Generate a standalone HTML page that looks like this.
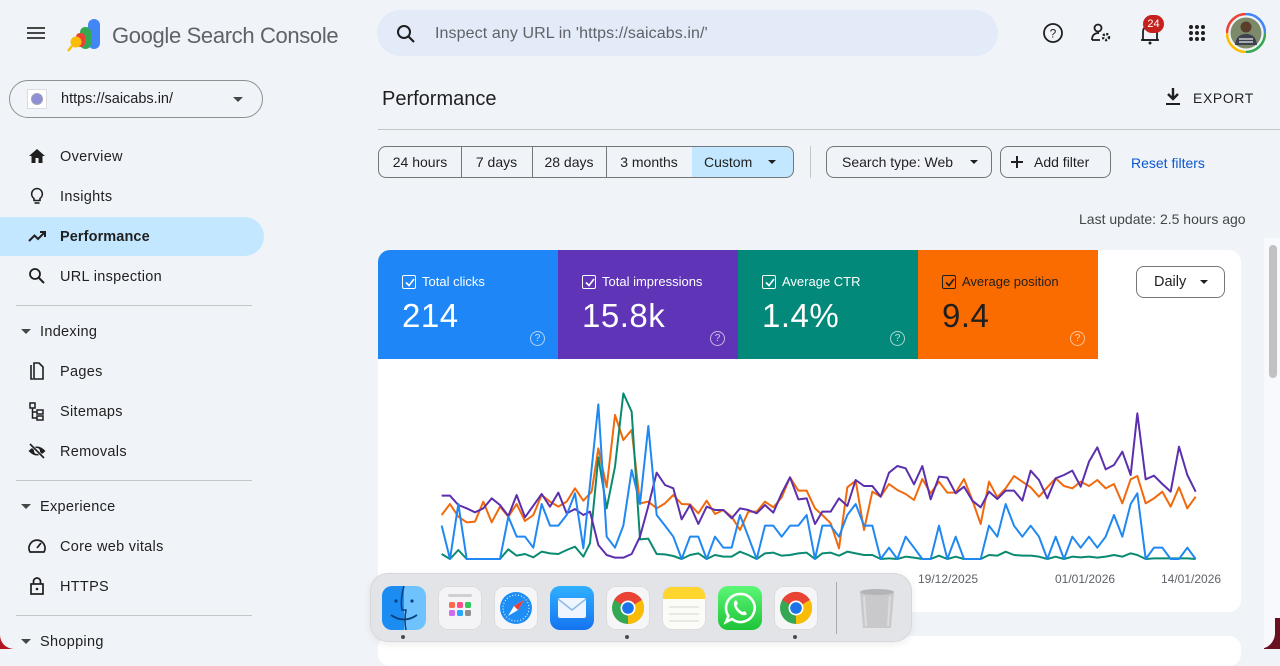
<!DOCTYPE html>
<html><head><meta charset="utf-8">
<style>
*{box-sizing:border-box;margin:0;padding:0}
body{width:1280px;height:649px;overflow:hidden;background:#f0f4f9;font-family:"Liberation Sans",Arial,sans-serif;color:#1f1f1f;position:relative}
.a{position:absolute}
.nav{position:absolute;left:60px;font-size:14.5px;color:#1f1f1f;letter-spacing:0.3px;line-height:18px}
.ic{position:absolute;left:27px;width:20px;height:20px}
.div{position:absolute;left:16px;width:236px;height:1px;background:#c4c7c5}
.chip{position:absolute;top:146px;height:32px;border:1px solid #747775;font-size:14px;line-height:30px;color:#1f1f1f;text-align:center}
.tile{position:absolute;top:250px;width:180px;height:109px;color:#fff}
.tile .lb{position:absolute;left:44px;top:24px;font-size:13px}
.tile .cb{position:absolute;left:24px;top:25px;width:14px;height:14px;border:1.5px solid #fff;border-radius:2px}
.tile .v{position:absolute;left:24px;top:47px;font-size:33px;letter-spacing:0.5px}
.tile .q{position:absolute;left:152px;top:81px;width:15px;height:15px;border:1.3px solid rgba(255,255,255,0.65);border-radius:50%;font-size:10px;line-height:13px;text-align:center;color:rgba(255,255,255,0.75)}
.dk{position:absolute;top:586px;width:44px;height:44px;border-radius:10px}
.date{position:absolute;top:572px;font-size:12px;color:#5f6368}
</style></head><body>

<!-- header -->
<div class="a" style="left:27px;top:27px;width:18px;height:2px;background:#444746"></div>
<div class="a" style="left:27px;top:32px;width:18px;height:2px;background:#444746"></div>
<div class="a" style="left:27px;top:37px;width:18px;height:2px;background:#444746"></div>
<svg class="a" style="left:66px;top:16px" width="36" height="36" viewBox="0 0 36 36">
<rect x="22" y="3" width="12" height="30" rx="6" fill="#4285f4"/>
<rect x="14" y="11" width="11" height="22" rx="5" fill="#34a853"/>
<rect x="10" y="17" width="9" height="14" rx="4" fill="#ea4335"/>
<circle cx="10" cy="26" r="5.5" fill="#fbbc04"/>
<line x1="6" y1="30" x2="2" y2="35" stroke="#fbbc04" stroke-width="2.5"/>
</svg>
<div class="a" style="left:112px;top:23px;font-size:22px;color:#5f6368;letter-spacing:-0.35px">Google Search Console</div>

<div class="a" style="left:377px;top:10px;width:621px;height:46px;border-radius:23px;background:#e3ebf8"></div>
<svg class="a" style="left:395px;top:23px" width="22" height="22" viewBox="0 0 22 22"><circle cx="9" cy="9" r="6" fill="none" stroke="#1f1f1f" stroke-width="2"/><line x1="13.5" y1="13.5" x2="19" y2="19" stroke="#1f1f1f" stroke-width="2.2"/></svg>
<div class="a" style="left:435px;top:25px;font-size:16px;color:#5f6368;letter-spacing:0.1px">Inspect any URL in 'https://saicabs.in/'</div>

<svg class="a" style="left:1042px;top:22px" width="22" height="22"><circle cx="11" cy="11" r="9" fill="none" stroke="#1f1f1f" stroke-width="1.8"/><text x="11" y="15.5" font-size="12" text-anchor="middle" fill="#1f1f1f" font-family="Liberation Sans">?</text></svg>
<svg class="a" style="left:1090px;top:22px" width="24" height="22"><circle cx="8" cy="6" r="3.5" fill="none" stroke="#1f1f1f" stroke-width="1.8"/><path d="M2 18 Q2 11 9 11" fill="none" stroke="#1f1f1f" stroke-width="1.8"/><line x1="2" y1="18" x2="10" y2="18" stroke="#1f1f1f" stroke-width="1.8"/><circle cx="16" cy="15" r="3" fill="none" stroke="#1f1f1f" stroke-width="2.5" stroke-dasharray="2 1.5"/></svg>
<svg class="a" style="left:1139px;top:22px" width="22" height="24"><path d="M4 18 V10 Q4 4 11 4 Q18 4 18 10 V18 Z" fill="none" stroke="#1f1f1f" stroke-width="1.8"/><line x1="2" y1="18" x2="20" y2="18" stroke="#1f1f1f" stroke-width="1.8"/><circle cx="11" cy="21" r="1.5" fill="#1f1f1f"/></svg>
<div class="a" style="left:1143px;top:15px;width:21px;height:18px;border-radius:9px;background:#c5221f;color:#fff;font-size:11px;text-align:center;line-height:18px">24</div>
<svg class="a" style="left:1188px;top:24px" width="18" height="18"><g fill="#1f1f1f"><circle cx="3" cy="3" r="2"/><circle cx="9" cy="3" r="2"/><circle cx="15" cy="3" r="2"/><circle cx="3" cy="9" r="2"/><circle cx="9" cy="9" r="2"/><circle cx="15" cy="9" r="2"/><circle cx="3" cy="15" r="2"/><circle cx="9" cy="15" r="2"/><circle cx="15" cy="15" r="2"/></g></svg>
<svg class="a" style="left:1226px;top:13px" width="40" height="40" viewBox="0 0 40 40">
<path d="M20 1 A19 19 0 0 1 39 20" fill="none" stroke="#4285f4" stroke-width="2.5"/>
<path d="M39 20 A19 19 0 0 1 20 39" fill="none" stroke="#34a853" stroke-width="2.5"/>
<path d="M20 39 A19 19 0 0 1 1 20" fill="none" stroke="#fbbc04" stroke-width="2.5"/>
<path d="M1 20 A19 19 0 0 1 20 1" fill="none" stroke="#ea4335" stroke-width="2.5"/>
<circle cx="20" cy="20" r="15.5" fill="#7d8a6a"/>
<circle cx="20" cy="14" r="5.5" fill="#5a3d2b"/>
<path d="M9 32 Q10 21 20 21 Q30 21 31 32 Z" fill="#3c4250"/>
<path d="M13 26 h14 M13 29 h14" stroke="#e8e8e8" stroke-width="1.2"/>
</svg>

<!-- sidebar -->
<div class="a" style="left:9px;top:80px;width:254px;height:38px;border:1px solid #8e918f;border-radius:19px"></div>
<div class="a" style="left:27px;top:89px;width:20px;height:20px;background:#fff;border:1px solid #dadce0"></div>
<div class="a" style="left:31px;top:93px;width:12px;height:12px;border-radius:50%;background:#8e8fd6;border:1.5px solid #9fa3b5"></div>
<div class="a" style="left:61px;top:91px;font-size:14.5px;color:#1f1f1f">https://saicabs.in/</div>
<div class="a" style="left:233px;top:97px;width:0;height:0;border-left:5px solid transparent;border-right:5px solid transparent;border-top:5px solid #444746"></div>

<div class="a" style="left:0;top:217px;width:264px;height:39px;background:#c2e7ff;border-radius:0 20px 20px 0"></div>

<svg class="ic" style="top:146px" viewBox="0 0 20 20"><path d="M10 3 L2 10 H4.5 V17 H8.5 V12 H11.5 V17 H15.5 V10 H18 Z" fill="#1f1f1f"/></svg>
<div class="nav" style="top:148px">Overview</div>
<svg class="ic" style="top:186px" viewBox="0 0 20 20"><path d="M10 2.5 A5.5 5.5 0 0 0 7 12.5 V14.5 H13 V12.5 A5.5 5.5 0 0 0 10 2.5 Z" fill="none" stroke="#1f1f1f" stroke-width="1.6"/><line x1="7.5" y1="17" x2="12.5" y2="17" stroke="#1f1f1f" stroke-width="1.6"/></svg>
<div class="nav" style="top:188px">Insights</div>
<svg class="ic" style="top:226px" viewBox="0 0 20 20"><path d="M2 15 L7.5 9.5 L11 13 L17 7" fill="none" stroke="#1f1f1f" stroke-width="2"/><path d="M13 6 H18 V11" fill="none" stroke="#1f1f1f" stroke-width="2"/></svg>
<div class="nav" style="top:228px;font-weight:bold;letter-spacing:0.1px">Performance</div>
<svg class="ic" style="top:266px" viewBox="0 0 20 20"><circle cx="8" cy="8" r="5" fill="none" stroke="#1f1f1f" stroke-width="1.8"/><line x1="11.5" y1="11.5" x2="17" y2="17" stroke="#1f1f1f" stroke-width="2"/></svg>
<div class="nav" style="top:268px">URL inspection</div>
<div class="div" style="top:305px"></div>
<div class="a" style="left:21px;top:329px;border-left:5px solid transparent;border-right:5px solid transparent;border-top:5px solid #444746"></div>
<div class="nav" style="left:40px;top:323px">Indexing</div>
<svg class="ic" style="top:361px" viewBox="0 0 20 20"><path d="M4 4 V18 H6" fill="none" stroke="#1f1f1f" stroke-width="1.6"/><path d="M7 2 H12 L16 6 V18 H7 Z" fill="none" stroke="#1f1f1f" stroke-width="1.6"/></svg>
<div class="nav" style="top:363px">Pages</div>
<svg class="ic" style="top:401px" viewBox="0 0 20 20"><rect x="3" y="2" width="5" height="5" fill="none" stroke="#1f1f1f" stroke-width="1.5"/><rect x="10" y="9" width="6" height="4" fill="none" stroke="#1f1f1f" stroke-width="1.5"/><rect x="10" y="15" width="6" height="4" fill="none" stroke="#1f1f1f" stroke-width="1.5"/><path d="M5.5 7 V17 H10 M5.5 11 H10" fill="none" stroke="#1f1f1f" stroke-width="1.5"/></svg>
<div class="nav" style="top:403px">Sitemaps</div>
<svg class="ic" style="top:441px" viewBox="0 0 20 20"><path d="M1.5 10 Q10 1 18.5 10 Q10 19 1.5 10 Z" fill="#1f1f1f"/><circle cx="10" cy="10" r="3" fill="#f0f4f9"/><line x1="3" y1="3" x2="17" y2="17" stroke="#f0f4f9" stroke-width="3"/><line x1="3" y1="3" x2="17" y2="17" stroke="#1f1f1f" stroke-width="1.6"/></svg>
<div class="nav" style="top:443px">Removals</div>
<div class="div" style="top:480px"></div>
<div class="a" style="left:21px;top:504px;border-left:5px solid transparent;border-right:5px solid transparent;border-top:5px solid #444746"></div>
<div class="nav" style="left:40px;top:498px">Experience</div>
<svg class="ic" style="top:536px" viewBox="0 0 20 20"><path d="M3 16 A8 8 0 1 1 17 16 Z" fill="none" stroke="#1f1f1f" stroke-width="1.7"/><line x1="10" y1="12" x2="14" y2="7" stroke="#1f1f1f" stroke-width="1.8"/></svg>
<div class="nav" style="top:538px">Core web vitals</div>
<svg class="ic" style="top:576px" viewBox="0 0 20 20"><rect x="4" y="8" width="12" height="10" fill="none" stroke="#1f1f1f" stroke-width="1.7"/><path d="M6.5 8 V5.5 A3.5 3.5 0 0 1 13.5 5.5 V8" fill="none" stroke="#1f1f1f" stroke-width="1.7"/><circle cx="10" cy="13" r="1.3" fill="#1f1f1f"/></svg>
<div class="nav" style="top:578px">HTTPS</div>
<div class="div" style="top:615px"></div>

<!-- bottom-left screen corner -->
<div class="a" style="left:0;top:633px;width:14px;height:16px;background:#b3121f"></div>
<div class="a" style="left:0;top:626px;width:24px;height:23px;background:#f0f4f9;border-bottom-left-radius:14px"></div>
<div class="a" style="left:21px;top:639px;border-left:5px solid transparent;border-right:5px solid transparent;border-top:5px solid #444746"></div>
<div class="nav" style="left:40px;top:633px">Shopping</div>

<!-- main header -->
<div class="a" style="left:382px;top:88px;font-size:20px;color:#1f1f1f">Performance</div>
<div class="a" style="left:378px;top:129px;width:902px;height:1px;background:#c4c7c5"></div>
<svg class="a" style="left:1164px;top:87px" width="18" height="20"><path d="M9 1 V11 M4 7 L9 12 L14 7" fill="none" stroke="#1f1f1f" stroke-width="2.4"/><line x1="2" y1="17" x2="16" y2="17" stroke="#1f1f1f" stroke-width="2"/></svg>
<div class="a" style="left:1193px;top:90px;font-size:14px;color:#1f1f1f;letter-spacing:0.6px">EXPORT</div>

<!-- filters -->
<div class="chip" style="left:378px;width:84px;border-radius:8px 0 0 8px">24 hours</div>
<div class="chip" style="left:461px;width:72px;border-left:none">7 days</div>
<div class="chip" style="left:532px;width:75px;border-left:none">28 days</div>
<div class="chip" style="left:606px;width:87px;border-left:none">3 months</div>
<div class="chip" style="left:692px;width:102px;border-left:none;border-radius:0 8px 8px 0;background:#c2e7ff;text-align:left;padding-left:12px">Custom</div>
<div class="a" style="left:768px;top:160px;border-left:4px solid transparent;border-right:4px solid transparent;border-top:4px solid #1f1f1f"></div>
<div class="a" style="left:810px;top:146px;width:1px;height:32px;background:#c4c7c5"></div>
<div class="chip" style="left:826px;width:166px;border-radius:8px;text-align:left;padding-left:15px">Search type: Web</div>
<div class="a" style="left:970px;top:160px;border-left:4px solid transparent;border-right:4px solid transparent;border-top:4px solid #1f1f1f"></div>
<div class="chip" style="left:1000px;width:111px;border-radius:8px;text-align:left;padding-left:33px">Add filter</div>
<div class="a" style="left:1011px;top:161px;width:12px;height:1.6px;background:#1f1f1f"></div>
<div class="a" style="left:1016.2px;top:156px;width:1.6px;height:12px;background:#1f1f1f"></div>
<div class="a" style="left:1131px;top:155px;font-size:14px;color:#0b57d0">Reset filters</div>

<div class="a" style="left:1079px;top:211px;font-size:14px;color:#444746">Last update: 2.5 hours ago</div>

<!-- scrollbar strip & bottom-right corner -->
<div class="a" style="left:1264px;top:238px;width:16px;height:411px;background:#f7f9fc"></div>
<div class="a" style="left:1269px;top:245px;width:8px;height:133px;background:#c1c1c1;border-radius:4px"></div>
<div class="a" style="left:1262px;top:618px;width:18px;height:31px;background:#6b1020"></div>
<div class="a" style="left:1250px;top:600px;width:25px;height:49px;background:#f7f9fc;border-bottom-right-radius:16px"></div>
<div class="a" style="left:1241px;top:600px;width:23px;height:49px;background:#f0f4f9"></div>

<!-- chart card -->
<div class="a" style="left:378px;top:250px;width:863px;height:362px;background:#fff;border-radius:12px"></div>
<div class="a" style="left:378px;top:636px;width:863px;height:30px;background:#fff;border-radius:12px"></div>

<div class="tile" style="left:378px;background:#1e86f6;border-top-left-radius:12px"><div class="cb"></div><svg class="a" style="left:27px;top:28px" width="10" height="9"><path d="M1 4.5 L4 7.5 L9 1" fill="none" stroke="#fff" stroke-width="1.6"/></svg><div class="lb">Total clicks</div><div class="v">214</div><div class="q">?</div></div>
<div class="tile" style="left:558px;background:#5f34b6"><div class="cb"></div><svg class="a" style="left:27px;top:28px" width="10" height="9"><path d="M1 4.5 L4 7.5 L9 1" fill="none" stroke="#fff" stroke-width="1.6"/></svg><div class="lb">Total impressions</div><div class="v">15.8k</div><div class="q">?</div></div>
<div class="tile" style="left:738px;background:#02897a"><div class="cb"></div><svg class="a" style="left:27px;top:28px" width="10" height="9"><path d="M1 4.5 L4 7.5 L9 1" fill="none" stroke="#fff" stroke-width="1.6"/></svg><div class="lb">Average CTR</div><div class="v">1.4%</div><div class="q">?</div></div>
<div class="tile" style="left:918px;background:#fa6b00;color:#1f1f1f"><div class="cb" style="border-color:#1f1f1f"></div><svg class="a" style="left:27px;top:28px" width="10" height="9"><path d="M1 4.5 L4 7.5 L9 1" fill="none" stroke="#1f1f1f" stroke-width="1.6"/></svg><div class="lb">Average position</div><div class="v">9.4</div><div class="q" style="border-color:rgba(255,255,255,0.6);color:rgba(255,255,255,0.7)">?</div></div>

<div class="a" style="left:1136px;top:266px;width:89px;height:32px;border:1px solid #747775;border-radius:8px;font-size:14.5px;line-height:30px;padding-left:17px;color:#1f1f1f">Daily</div>
<div class="a" style="left:1200px;top:280px;border-left:4.5px solid transparent;border-right:4.5px solid transparent;border-top:4.5px solid #1f1f1f"></div>

<!-- chart lines -->
<svg class="a" style="left:0;top:0" width="1280" height="649">
<g transform="translate(420,380) scale(0.333333)" fill="none" stroke-width="6" stroke-linejoin="round">
<polyline stroke="#f06a0c" points="65,405 90,372 115,410 140,427 165,425 190,365 215,427 240,380 265,410 290,372 315,423 340,405 365,345 390,365 415,380 440,365 465,325 490,362 515,335 535,205 560,322 585,105 610,180 635,150 660,370 685,365 710,385 735,370 760,345 785,372 810,373 835,400 860,362 885,402 910,390 935,410 960,450 985,395 1010,395 1035,365 1060,382 1085,352 1110,292 1135,332 1160,332 1185,385 1207,405 1232,430 1257,505 1282,322 1307,302 1332,450 1357,335 1382,350 1407,312 1432,330 1457,342 1482,360 1507,297 1532,340 1557,305 1582,338 1607,338 1632,297 1657,360 1682,432 1707,305 1732,352 1757,325 1782,288 1807,305 1832,322 1857,350 1882,322 1907,295 1932,318 1957,325 1982,305 2007,318 2032,300 2057,325 2082,312 2107,370 2132,298 2152,288 2177,370 2202,355 2227,335 2252,380 2277,322 2302,385 2327,350"/>
<polyline stroke="#0b8a72" points="65,522 90,537 115,510 140,537 240,537 265,508 290,527 315,522 340,532 365,515 390,520 415,522 440,510 465,500 490,530 510,490 535,232 560,385 585,260 610,40 635,95 660,478 685,476 710,522 735,523 760,528 785,537 810,525 835,520 860,537 885,525 910,530 935,530 960,515 985,525 1010,537 1035,520 1060,518 1085,527 1110,525 1135,520 1160,518 1185,537 1207,520 1232,518 1257,527 1282,515 1307,520 1332,525 1357,525 1382,537 1407,535 1432,537 1457,530 1482,533 1507,537 1532,537 1557,527 1582,537 1607,530 1632,537 1657,537 1682,537 1707,525 1732,527 1757,515 1782,525 1807,527 1832,527 1857,530 1882,537 1907,530 1932,537 1957,530 1982,532 2007,530 2032,533 2057,530 2082,525 2107,530 2132,520 2152,525 2177,537 2202,535 2227,535 2252,535 2277,535 2302,535 2327,537"/>
<polyline stroke="#5b2fae" points="65,347 90,347 115,375 140,385 165,397 190,385 215,355 240,375 265,408 290,345 315,412 340,377 365,342 390,380 415,338 440,400 465,387 490,405 510,395 535,495 560,525 585,533 610,533 635,522 660,470 685,378 710,278 735,315 760,325 785,418 810,375 835,432 860,380 885,390 910,390 935,415 960,385 985,390 1010,400 1035,375 1060,398 1085,340 1110,292 1135,358 1160,355 1185,432 1207,395 1232,395 1257,355 1282,378 1307,300 1332,318 1357,318 1382,350 1407,278 1432,258 1457,265 1482,313 1507,258 1532,358 1557,290 1582,293 1607,340 1632,320 1657,362 1682,382 1707,335 1732,357 1757,332 1782,332 1807,362 1832,272 1857,300 1882,355 1907,295 1932,285 1957,272 1982,320 2007,245 2032,202 2057,268 2082,255 2107,215 2132,285 2152,100 2177,298 2202,287 2227,312 2252,335 2277,200 2302,285 2327,335"/>
<polyline stroke="#2088f2" points="65,437 90,537 115,372 140,537 240,537 265,410 290,470 315,470 340,503 365,372 390,437 415,437 440,405 465,340 490,505 535,73 560,470 585,503 610,437 635,270 660,372 685,138 710,405 735,437 760,470 785,537 810,470 835,470 860,537 885,470 910,503 935,503 960,405 985,470 1010,537 1035,437 1060,437 1085,470 1110,437 1135,437 1160,405 1185,537 1207,437 1232,437 1257,470 1282,405 1307,372 1332,437 1357,437 1382,537 1407,503 1432,537 1457,470 1482,503 1507,537 1532,537 1557,437 1582,537 1607,470 1632,537 1657,537 1682,537 1707,437 1732,470 1757,372 1782,437 1807,470 1832,437 1857,470 1882,537 1907,470 1932,537 1957,470 1982,503 2007,470 2032,503 2057,470 2082,405 2107,470 2132,372 2152,340 2177,537 2202,503 2227,503 2252,537 2277,537 2302,503 2327,537"/>
</g>
</svg>

<div class="date" style="left:918px">19/12/2025</div>
<div class="date" style="left:1055px">01/01/2026</div>
<div class="date" style="left:1161px">14/01/2026</div>

<!-- dock -->
<div class="a" style="left:370px;top:573px;width:542px;height:69px;border-radius:18px;background:rgba(226,227,231,0.96);border:1px solid rgba(0,0,0,0.06);box-shadow:0 2px 8px rgba(0,0,0,0.08)"></div>
<!-- finder -->
<div class="dk" style="left:382px;background:linear-gradient(90deg,#1a8cf2 0 50%,#6ec3ff 50% 100%);overflow:hidden">
<svg width="44" height="44"><path d="M22 0 Q18 14 20 24 L24 24 Q22 34 24 44" fill="none" stroke="#0a3f7a" stroke-width="1.5"/><circle cx="14" cy="15" r="1.6" fill="#0a3f7a"/><circle cx="30" cy="15" r="1.6" fill="#0a3f7a"/><path d="M9 29 Q22 38 35 29" fill="none" stroke="#0a3f7a" stroke-width="1.8"/></svg></div>
<!-- launchpad -->
<div class="dk" style="left:438px;background:#f4f4f6;border:1px solid #ddd">
<svg width="42" height="42"><rect x="9" y="7" width="24" height="3" rx="1.5" fill="#d0d0d4"/><g><rect x="10" y="15" width="6" height="6" rx="1.5" fill="#ff6b4a"/><rect x="18" y="15" width="6" height="6" rx="1.5" fill="#ff4f8b"/><rect x="26" y="15" width="6" height="6" rx="1.5" fill="#34c759"/><rect x="10" y="23" width="6" height="6" rx="1.5" fill="#cf6bf0"/><rect x="18" y="23" width="6" height="6" rx="1.5" fill="#2aa7ff"/><rect x="26" y="23" width="6" height="6" rx="1.5" fill="#8e8e93"/></g></svg></div>
<!-- safari -->
<div class="dk" style="left:494px;background:#f6f6f8;border:1px solid #ddd">
<svg width="42" height="42"><circle cx="21" cy="21" r="16" fill="#1e8ef5"/><circle cx="21" cy="21" r="13" fill="none" stroke="#fff" stroke-width="1" stroke-dasharray="1 2"/><path d="M29 13 L23 23 L13 29 L19 19 Z" fill="#fff"/><path d="M29 13 L23 23 L19 19 Z" fill="#f23b30"/></svg></div>
<!-- mail -->
<div class="dk" style="left:550px;background:linear-gradient(#2fb0ff,#1474f0)">
<svg width="44" height="44"><rect x="8" y="12" width="28" height="20" rx="2" fill="#eef5ff"/><path d="M8 13 L22 24 L36 13" fill="none" stroke="#8fb8e8" stroke-width="1.5"/></svg></div>
<!-- chrome -->
<div class="dk" style="left:606px;background:#f6f6f8;border:1px solid #ddd">
<svg width="42" height="42"><circle cx="21" cy="21" r="16" fill="#34a853"/><path d="M21 21 L7.1 13 A16 16 0 0 1 34.9 13 Z" fill="#ea4335"/><path d="M21 21 L34.9 13 A16 16 0 0 1 21 37 Z" fill="#fbbc04"/><circle cx="21" cy="21" r="7.5" fill="#fff"/><circle cx="21" cy="21" r="5.8" fill="#1a73e8"/></svg></div>
<!-- notes -->
<div class="dk" style="left:662px;background:linear-gradient(#ffd52e 0 28%,#fbfbf8 28%);border:1px solid #ddd">
<svg width="42" height="42"><line x1="6" y1="20" x2="36" y2="20" stroke="#d6d6d6"/><line x1="6" y1="27" x2="36" y2="27" stroke="#d6d6d6"/><line x1="6" y1="34" x2="36" y2="34" stroke="#d6d6d6"/></svg></div>
<!-- whatsapp -->
<div class="dk" style="left:718px;background:linear-gradient(#5cf777,#1ec338)">
<svg width="44" height="44"><path d="M22 8 A14 14 0 1 1 14 33 L8 36 L10.5 30 A14 14 0 0 1 22 8 Z" fill="none" stroke="#fff" stroke-width="2.6"/><path d="M16 16 Q15 22 21 27 Q26 31 29 28 L27 25 L24.5 26 Q20 23.5 18.5 19.5 L20 17.5 L18 14 Z" fill="#fff"/></svg></div>
<!-- chrome 2 -->
<div class="dk" style="left:774px;background:#f6f6f8;border:1px solid #ddd">
<svg width="42" height="42"><circle cx="21" cy="21" r="16" fill="#34a853"/><path d="M21 21 L7.1 13 A16 16 0 0 1 34.9 13 Z" fill="#ea4335"/><path d="M21 21 L34.9 13 A16 16 0 0 1 21 37 Z" fill="#fbbc04"/><circle cx="21" cy="21" r="7.5" fill="#fff"/><circle cx="21" cy="21" r="5.8" fill="#1a73e8"/></svg></div>
<div class="a" style="left:836px;top:582px;width:1px;height:52px;background:#a9a9ad"></div>
<!-- trash -->
<svg class="a" style="left:855px;top:586px" width="44" height="44"><path d="M5 6 H39 L36 42 H8 Z" fill="#c9c9cc"/><ellipse cx="22" cy="6" rx="17" ry="3" fill="#b4b4b8"/><path d="M9 10 L11 40 M35 10 L33 40" stroke="#dcdce0" stroke-width="2"/></svg>
<div class="a" style="left:401px;top:635px;width:4px;height:4px;border-radius:50%;background:#4a4a4a"></div>
<div class="a" style="left:625px;top:635px;width:4px;height:4px;border-radius:50%;background:#4a4a4a"></div>
<div class="a" style="left:793px;top:635px;width:4px;height:4px;border-radius:50%;background:#4a4a4a"></div>

</body></html>
